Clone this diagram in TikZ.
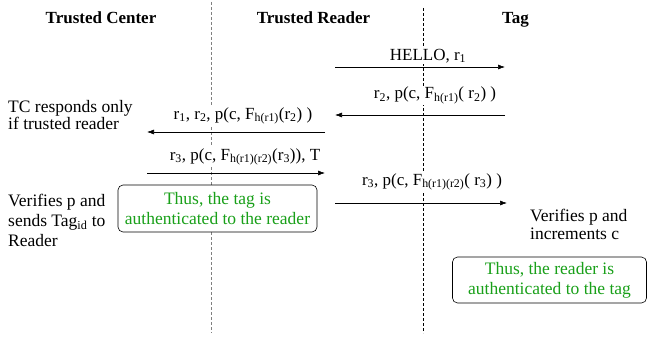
\documentclass[tikz,border=0pt]{standalone}
\usepackage{fontspec}
\setmainfont{Liberation Serif}
\usetikzlibrary{arrows.meta}
\definecolor{tgreen}{RGB}{25,160,25}
\tikzset{
  hdr/.style={font=\fontsize{17}{19}\selectfont\bfseries, anchor=base, inner sep=0pt},
  msg/.style={font=\fontsize{17}{19}\selectfont, anchor=base, fill=white, inner sep=1pt},
  note/.style={font=\fontsize{17.5}{19}\selectfont, align=left, anchor=north west, inner sep=0pt},
  life/.style={dash pattern=on 3pt off 2pt, line width=0.5pt},
  arr/.style={-{Latex[length=7pt,width=5pt]}, line width=0.6pt},
  concl/.style={draw=black, line width=0.6pt, rounded corners=5pt, fill=white, text=tgreen,
    font=\fontsize{17.5}{20}\selectfont, align=center, inner sep=0pt}
}
\begin{document}
\begin{tikzpicture}[x=1pt,y=-1pt]
\useasboundingbox (0,0) rectangle (648,337);
% lifelines
\coordinate (l1t) at (211,2);
\coordinate (l1b) at (211,333);
\coordinate (l2t) at (423,8);
\coordinate (l2b) at (423,333);
\draw[life, gray] (l1t) -- (l1b);
\draw[life, black] (l2t) -- (l2b);
% headers
\node[hdr] (htc) at (101,24) {Trusted Center};
\node[hdr] (htr) at (313.5,24) {Trusted Reader};
\node[hdr] (htag) at (515.5,24) {Tag};
% message labels
\node[msg] (m1) at (428,60) {HELLO, r\textsubscript{1}};
\node[msg] (m2) at (435,99) {r\textsubscript{2}, p(c, F\textsubscript{h(r1)}( r\textsubscript{2}) )};
\node[msg] (m3) at (243,119) {r\textsubscript{1}, r\textsubscript{2}, p(c, F\textsubscript{h(r1)}(r\textsubscript{2}) )};
\node[msg] (m4) at (245,160) {r\textsubscript{3}, p(c, F\textsubscript{h(r1)(r2)}(r\textsubscript{3})), T};
\node[msg] (m5) at (432,185) {r\textsubscript{3}, p(c, F\textsubscript{h(r1)(r2)}( r\textsubscript{3}) )};
% side notes
\node[note, font=\fontsize{17.5}{17.5}\selectfont] (n1) at (8,100) {TC responds only\\if trusted reader};
\node[note, font=\fontsize{17.5}{20}\selectfont] (n2) at (8,194) {Verifies p and\\sends Tag\textsubscript{id} to\\Reader};
\node[note, font=\fontsize{17.5}{17.5}\selectfont] (n3) at (530,209) {Verifies p and\\increments c};
% conclusion boxes
\node[concl, minimum width=199pt, minimum height=47pt] (b1) at (217.5,208.5) {Thus, the tag is\\authenticated to the reader};
\node[concl, minimum width=194pt, minimum height=46pt] (b2) at (549.5,280) {Thus, the reader is\\authenticated to the tag};
% arrow endpoints
\coordinate (a1s) at (335,67);  \coordinate (a1e) at (505,67);
\coordinate (a2s) at (505,115); \coordinate (a2e) at (335,115);
\coordinate (a3s) at (325,132); \coordinate (a3e) at (147,132);
\coordinate (a4s) at (147,173); \coordinate (a4e) at (325,173);
\coordinate (a5s) at (335,203); \coordinate (a5e) at (507,203);
\draw[arr] (a1s) -- (a1e);
\draw[arr] (a2s) -- (a2e);
\draw[arr] (a3s) -- (a3e);
\draw[arr] (a4s) -- (a4e);
\draw[arr] (a5s) -- (a5e);
\end{tikzpicture}
\end{document}
